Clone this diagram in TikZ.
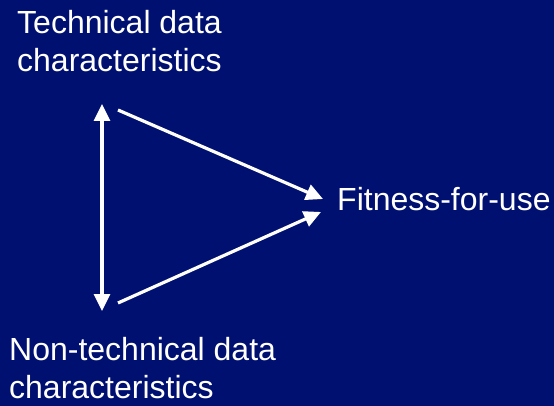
\documentclass[tikz,border=0pt]{standalone}
\usepackage{fontspec}
\setmainfont{Liberation Sans}
\usetikzlibrary{arrows.meta}
\definecolor{navy}{RGB}{0,16,112}
\begin{document}
\begin{tikzpicture}[
x=1pt, y=-1pt,
lbl/.style = {text=white, inner sep=0pt, align=left, font=\fontsize{32}{38}\selectfont},
edge/.style = {white, line width=3.2pt, -{Triangle[length=17pt,width=16pt]}},
dedge/.style = {white, line width=3.2pt, {Triangle[length=17pt,width=16pt]}-{Triangle[length=17pt,width=16pt]}}
]
  \fill[navy] (0,0) rectangle (554,406);
  \useasboundingbox (0,0) rectangle (554,406);

  \node[lbl, anchor=base west] (tech) at (17,72) {Technical data\\characteristics};
  \node[lbl, anchor=base west] (nontech) at (9,398) {Non-technical data\\characteristics};
  \node[lbl, anchor=base west] (fit) at (337,211) {Fitness-for-use};

  \coordinate (top) at (102,104);
  \coordinate (bot) at (102,311);
  \coordinate (tstart) at (118,110);
  \coordinate (bstart) at (118,303);
  \coordinate (tend) at (323,199);
  \coordinate (bend) at (321,212);

  \draw[dedge] (top) -- (bot);
  \draw[edge] (tstart) -- (tend);
  \draw[edge] (bstart) -- (bend);
\end{tikzpicture}
\end{document}
